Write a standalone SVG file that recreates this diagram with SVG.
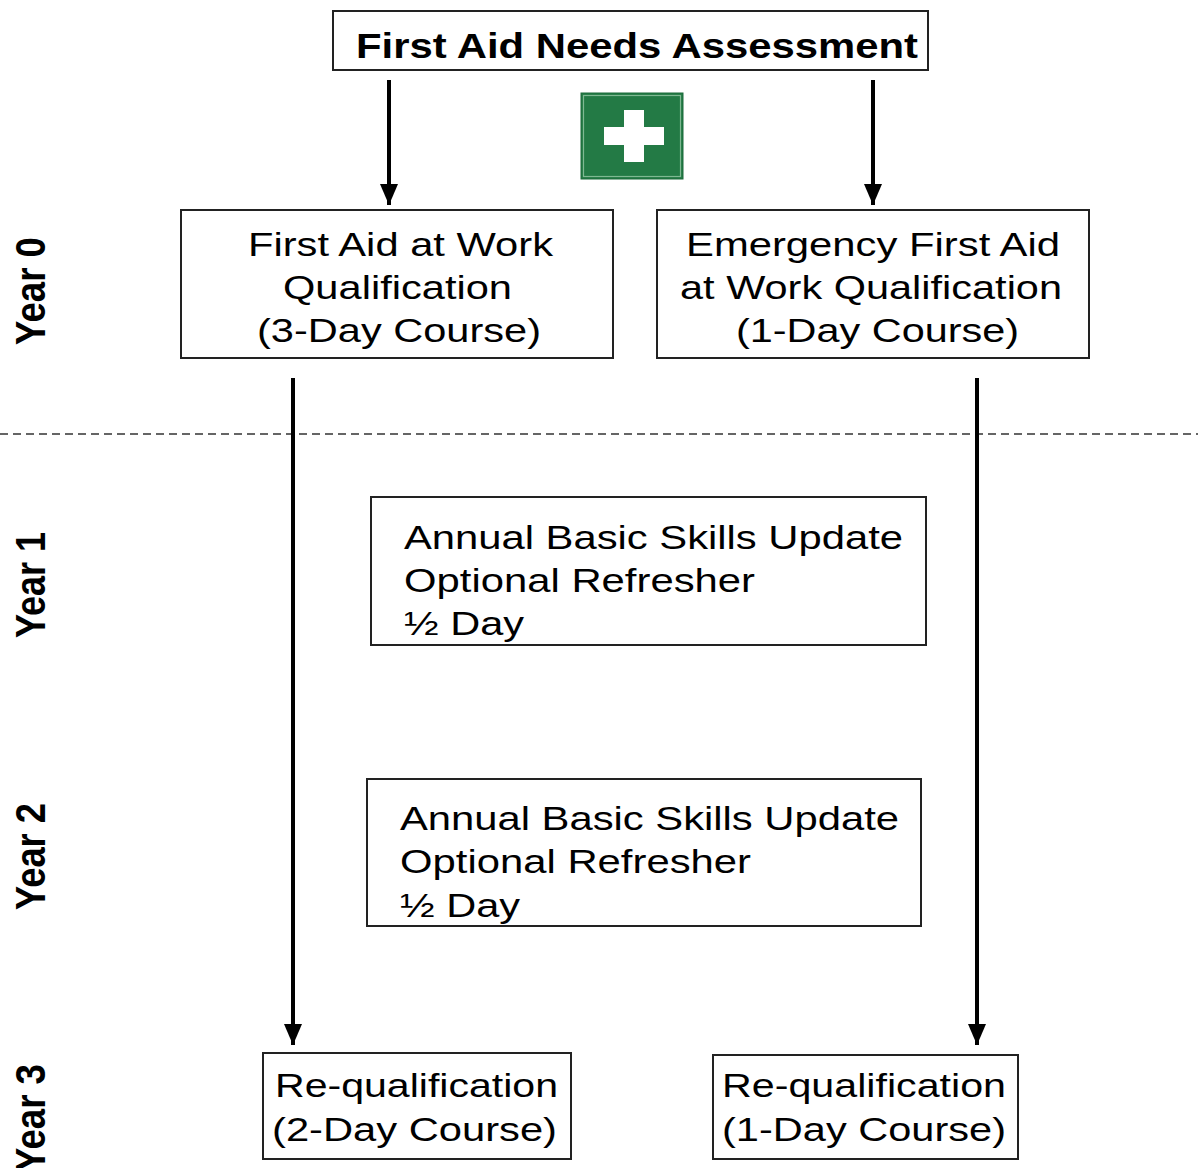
<svg xmlns="http://www.w3.org/2000/svg" width="1198" height="1168" viewBox="0 0 1198 1168">
<style>
.box{fill:#fff;stroke:#222;stroke-width:2}
.t{font-family:"Liberation Sans",Arial,sans-serif;font-size:34px;fill:#000}
.tb{font-family:"Liberation Sans",Arial,sans-serif;font-size:35px;font-weight:bold;fill:#000}
.yr{font-family:"Liberation Sans",Arial,sans-serif;font-size:36px;font-weight:bold;fill:#000}
.arr{stroke:#000;stroke-width:4;fill:none;marker-end:url(#ah)}
.dash{stroke:#333;stroke-width:1.5;stroke-dasharray:8 5;fill:none}
</style>
<defs>
<marker id="ah" markerUnits="userSpaceOnUse" markerWidth="22" markerHeight="20" viewBox="0 0 22 20" refX="21" refY="10" orient="auto">
<path d="M0,1 L0,19 L21,10 Z" fill="#000"/>
</marker>
</defs>
<rect width="1198" height="1168" fill="#fff"/>

<g id="year-labels">
<text class="yr" transform="translate(45,345) scale(1.18,1) rotate(-90)" textLength="108" lengthAdjust="spacingAndGlyphs">Year 0</text>
<text class="yr" transform="translate(45,638) scale(1.18,1) rotate(-90)" textLength="106" lengthAdjust="spacingAndGlyphs">Year 1</text>
<text class="yr" transform="translate(45,910) scale(1.18,1) rotate(-90)" textLength="107" lengthAdjust="spacingAndGlyphs">Year 2</text>
<text class="yr" transform="translate(45,1172) scale(1.18,1) rotate(-90)" textLength="108" lengthAdjust="spacingAndGlyphs">Year 3</text>
</g>

<line class="dash" x1="0" y1="434" x2="1198" y2="434"/>

<g id="connectors">
<line class="arr" x1="389" y1="80" x2="389" y2="205"/>
<line class="arr" x1="873" y1="80" x2="873" y2="205"/>
<line class="arr" x1="293" y1="378" x2="293" y2="1045"/>
<line class="arr" x1="977" y1="378" x2="977" y2="1045"/>
</g>

<g id="assessment">
<rect class="box" x="333" y="11" width="595" height="59"/>
<text class="tb" x="356" y="58" textLength="562" lengthAdjust="spacingAndGlyphs">First Aid Needs Assessment</text>
</g>

<g id="first-aid-icon">
<rect x="581" y="93" width="102" height="86" fill="#237a45" stroke="#1d6b3b" stroke-width="1"/>
<rect x="583.5" y="95.5" width="97" height="81" fill="none" stroke="#7fb892" stroke-width="1.2"/>
<rect x="604" y="127" width="60" height="18" fill="#fff"/>
<rect x="624" y="110" width="20" height="52" fill="#fff"/>
</g>

<g id="faw">
<rect class="box" x="181" y="210" width="432" height="148"/>
<text class="t" x="248" y="256" textLength="305" lengthAdjust="spacingAndGlyphs">First Aid at Work</text>
<text class="t" x="283" y="299" textLength="229" lengthAdjust="spacingAndGlyphs">Qualification</text>
<text class="t" x="257" y="342" textLength="284" lengthAdjust="spacingAndGlyphs">(3-Day Course)</text>
</g>

<g id="efaw">
<rect class="box" x="657" y="210" width="432" height="148"/>
<text class="t" x="686" y="256" textLength="374" lengthAdjust="spacingAndGlyphs">Emergency First Aid</text>
<text class="t" x="680" y="299" textLength="382" lengthAdjust="spacingAndGlyphs">at Work Qualification</text>
<text class="t" x="736" y="342" textLength="283" lengthAdjust="spacingAndGlyphs">(1-Day Course)</text>
</g>

<g id="update-year1">
<rect class="box" x="371" y="497" width="555" height="148"/>
<text class="t" x="404" y="549" textLength="499" lengthAdjust="spacingAndGlyphs">Annual Basic Skills Update</text>
<text class="t" x="404" y="592" textLength="351" lengthAdjust="spacingAndGlyphs">Optional Refresher</text>
<text class="t" x="404" y="635" textLength="120" lengthAdjust="spacingAndGlyphs">½ Day</text>
</g>

<g id="update-year2">
<rect class="box" x="367" y="779" width="554" height="147"/>
<text class="t" x="400" y="830" textLength="499" lengthAdjust="spacingAndGlyphs">Annual Basic Skills Update</text>
<text class="t" x="400" y="873" textLength="351" lengthAdjust="spacingAndGlyphs">Optional Refresher</text>
<text class="t" x="400" y="917" textLength="120" lengthAdjust="spacingAndGlyphs">½ Day</text>
</g>

<g id="requal-2day">
<rect class="box" x="263" y="1053" width="308" height="106"/>
<text class="t" x="275" y="1097" textLength="283" lengthAdjust="spacingAndGlyphs">Re-qualification</text>
<text class="t" x="272" y="1141" textLength="285" lengthAdjust="spacingAndGlyphs">(2-Day Course)</text>
</g>

<g id="requal-1day">
<rect class="box" x="713" y="1055" width="305" height="104"/>
<text class="t" x="722" y="1097" textLength="284" lengthAdjust="spacingAndGlyphs">Re-qualification</text>
<text class="t" x="722" y="1141" textLength="284" lengthAdjust="spacingAndGlyphs">(1-Day Course)</text>
</g>
</svg>
